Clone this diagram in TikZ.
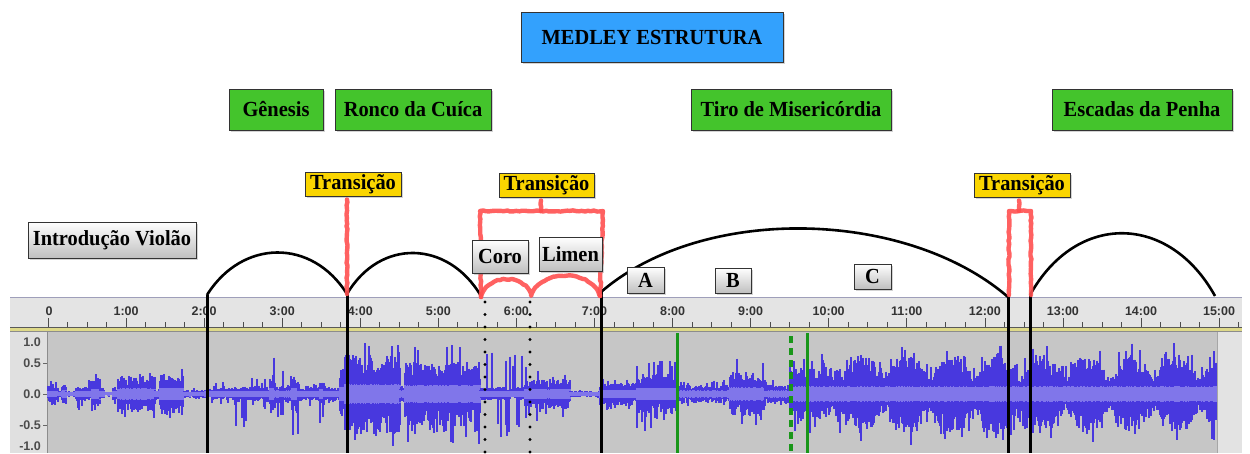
\documentclass[tikz,border=0pt]{standalone}
\usepackage{fontspec}
\setmainfont{Liberation Serif}
\setsansfont{Liberation Sans}
\newfontfamily\boxfam{Liberation Serif}[FakeStretch=0.95]
\usetikzlibrary{shadows,decorations.pathmorphing}
\definecolor{gbox}{RGB}{68,196,44}
\definecolor{bbox}{RGB}{51,161,253}
\definecolor{ybox}{RGB}{250,213,0}
\definecolor{redl}{RGB}{255,80,80}
\definecolor{wdark}{RGB}{72,56,222}
\definecolor{wlight}{RGB}{128,118,234}
\definecolor{trackbg}{RGB}{198,198,198}
\definecolor{rulerbg}{RGB}{228,228,228}
\definecolor{gline}{RGB}{25,150,25}
\newcommand\boxfont{\boxfam\fontsize{21.5}{23}\selectfont\bfseries}
\newcommand\rulfont{\sffamily\fontsize{12.5}{13}\selectfont\bfseries}
\tikzset{
  box/.style={draw=black!80, line width=1pt, font=\boxfont, inner sep=0pt,
    drop shadow={shadow xshift=1.5pt, shadow yshift=-2pt, opacity=0.35}},
  greenbox/.style={box, fill=gbox},
  bluebox/.style={box, fill=bbox},
  yellowbox/.style={box, fill=ybox},
  graybox/.style={box, top color=white, bottom color=black!25},
  redmark/.style={draw=redl, line width=4.4pt, opacity=0.9, line cap=round, line join=round,
    decorate, decoration={random steps, segment length=3pt, amplitude=0.6pt}},
  arcline/.style={draw=black, line width=2.6pt},
  cutline/.style={draw=black, line width=3pt},
  dotline/.style={draw=black, line width=3.2pt, line cap=round, dash pattern=on 0pt off 12.5pt},
  greenline/.style={draw=gline, line width=3pt},
  greendash/.style={draw=gline, line width=3.4pt, dash pattern=on 7pt off 5pt},
  rullab/.style={font=\rulfont, text=black!80, inner sep=0pt},
  amplab/.style={font=\rulfont, text=black!70, inner sep=0pt, anchor=east}
}
\begin{document}
\begin{tikzpicture}[x=1pt,y=-1pt]
\useasboundingbox (0,0) rectangle (1250,453);
% ---------- ruler and track backgrounds
\fill[rulerbg] (10,297) rectangle (1242,327);
\draw[black!30!blue!25!gray!60, line width=1.5pt] (10,297.5) -- (1242,297.5);
\fill[black!12] (10,332) rectangle (47,453);
\fill[trackbg] (48,332) rectangle (1217,453);
\fill[black!11] (1217,332) rectangle (1242,453);
\draw[black!45, line width=1pt] (47.5,332) -- (47.5,453);
\draw[black!35, line width=1pt] (1217.5,332) -- (1217.5,453);
\fill[yellow!45!white!85!black] (10,327.5) rectangle (1242,331.5);
\draw[black!65, line width=1pt] (10,327) -- (1242,327);
\draw[black!45, line width=0.8pt] (10,331.8) -- (1242,331.8);
% ruler ticks
\foreach \i in {0,...,61}{
  \pgfmathsetmacro\tx{48+19.52*\i}
  \pgfmathtruncatemacro\mj{mod(\i,4)}
  \ifnum\mj=0
    \draw[black!70, line width=0.9pt] (\tx,318) -- (\tx,327);
  \else
    \draw[black!70, line width=0.9pt] (\tx,322) -- (\tx,327);
  \fi
}
\node[rullab] (t0) at (49,311) {0};
\foreach \m in {1,...,15}{
  \node[rullab] (tm\m) at ({48+78.07*\m},311) {\m:00};
}
% amplitude labels
\node[amplab] (a1) at (41,342) {1.0};
\node[amplab] (a2) at (41,363) {0.5};
\node[amplab] (a3) at (41,394) {0.0};
\node[amplab] (a4) at (41,425) {-0.5};
\node[amplab] (a5) at (41,446) {-1.0};
\foreach \yy in {363,394,425}{ \draw[black!60, line width=0.8pt] (43,\yy) -- (47,\yy); }
% ---------- waveform
\pgfmathsetseed{4711}
\foreach \a/\b/\m/\s in {48/58/8/13, 58/62/4/4, 62/66/10/10, 66/76/3/3, 76/92/7/18, 92/100/16/20,
  100/104/6/6, 104/113/2/3, 113/118/6/10, 118/155/18/24, 155/160/6/6, 160/183/20/26, 183/205/4/6,
  205/235/6/12, 235/250/8/38, 250/270/8/16, 270/275/20/50, 275/292/9/25, 292/298/20/48, 298/320/7/12,
  320/324/15/36, 324/340/7/12, 340/345/25/40, 345/400/40/54, 400/405/10/12, 405/480/32/50,
  480/525/7/45, 525/570/15/28, 570/600/3/4, 600/637/11/16, 637/677/20/38, 677/730/9/14,
  730/765/22/36, 765/790/9/14, 790/840/26/40}{
  \foreach \x in {\a,...,\b}{
    \pgfmathsetmacro\hu{ifthenelse(rnd>0.86,\s*(0.6+0.4*rnd),\m*(0.45+0.55*rnd))}
    \pgfmathsetmacro\hd{ifthenelse(rnd>0.86,\s*(0.6+0.4*rnd),\m*(0.45+0.55*rnd))}
    \pgfmathsetmacro\rr{min(1.5+0.25*\m,10)*(0.85+0.15*rnd)}
    \pgfmathsetmacro\ru{min(\hu,\rr)}
    \pgfmathsetmacro\rd{min(\hd,\rr)}
    \draw[wdark, line width=1.05pt] (\x,{394-\hu}) -- (\x,{394+\hd});
    \draw[wlight, line width=1.05pt] (\x,{394-\ru}) -- (\x,{394+\rd});
  }
}
\foreach \x in {841,...,1216}{
  \pgfmathsetmacro\m{16+24*abs(sin((\x-840)*4))}
  \pgfmathsetmacro\hu{ifthenelse(rnd>0.85,(\m+12)*(0.7+0.3*rnd),\m*(0.5+0.5*rnd))}
  \pgfmathsetmacro\hd{ifthenelse(rnd>0.85,(\m+12)*(0.7+0.3*rnd),\m*(0.5+0.5*rnd))}
  \pgfmathsetmacro\rr{8*(0.85+0.15*rnd)}
  \draw[wdark, line width=1.05pt] (\x,{394-\hu}) -- (\x,{394+\hd});
  \draw[wlight, line width=1.05pt] (\x,{394-\rr}) -- (\x,{394+\rr});
}
% ---------- coordinates
\coordinate (c1t) at (207,295); \coordinate (c1b) at (207,453);
\coordinate (c2t) at (347,294); \coordinate (c2b) at (347,453);
\coordinate (c3t) at (601,292); \coordinate (c3b) at (601,453);
\coordinate (c4t) at (1008,297); \coordinate (c4b) at (1008,453);
\coordinate (c5t) at (1030,295); \coordinate (c5b) at (1030,453);
\coordinate (r4) at (481,296);
\coordinate (e4) at (1215,296);
\coordinate (d1t) at (485,302); \coordinate (d1b) at (485,453);
\coordinate (d2t) at (530,302); \coordinate (d2b) at (530,453);
\coordinate (g1t) at (677,333); \coordinate (g1b) at (677,453);
\coordinate (g2t) at (791,336); \coordinate (g2b) at (791,453);
\coordinate (g3t) at (807,333); \coordinate (g3b) at (807,453);
% ---------- vertical lines
\draw[cutline] (c1t) -- (c1b);
\draw[cutline] (c2t) -- (c2b);
\draw[cutline] (c3t) -- (c3b);
\draw[cutline] (c4t) -- (c4b);
\draw[cutline] (c5t) -- (c5b);
\draw[dotline] (d1t) -- (d1b);
\draw[dotline] (d2t) -- (d2b);
\draw[greenline] (g1t) -- (g1b);
\draw[greenline] (g3t) -- (g3b);
\draw[greendash] (g2t) -- (g2b);
% ---------- arcs
\draw[arcline] (c1t) .. controls +(35,-56) and +(-35,-56) .. (c2t);
\draw[arcline] (c2t) .. controls +(33,-56) and +(-33,-56) .. (r4);
\draw[arcline] (c3t) .. controls +(102,-88) and +(-102,-88) .. (c4t);
\draw[arcline] (c5t) .. controls +(46,-83) and +(-46,-83) .. (e4);
% ---------- boxes
\node[bluebox, minimum width=262pt, minimum height=50pt] (title) at (652,37) {MEDLEY ESTRUTURA};
\node[greenbox, minimum width=94pt, minimum height=41pt] (gen) at (276,109.5) {Gênesis};
\node[greenbox, minimum width=156pt, minimum height=41pt] (ronco) at (413,109.5) {Ronco da Cuíca};
\node[greenbox, minimum width=200pt, minimum height=41pt] (tiro) at (791,109.5) {Tiro de Misericórdia};
\node[greenbox, minimum width=180pt, minimum height=41pt] (esc) at (1142,109.5) {Escadas da Penha};
\node[yellowbox, minimum width=96pt, minimum height=24pt] (tr1) at (353,184) {Transição};
\node[yellowbox, minimum width=95pt, minimum height=24pt] (tr2) at (546.5,185) {Transição};
\node[yellowbox, minimum width=96pt, minimum height=24pt] (tr3) at (1022,185) {Transição};
% ---------- red transition marks
\coordinate (q1) at (347,294);
\draw[redmark] ([yshift=-3pt]tr1.south -| q1) -- (q1);
\coordinate (s2) at (541,211);
\coordinate (s2l) at (480,211); \coordinate (s2r) at (603,211);
\coordinate (b2l) at (481,297); \coordinate (b2m) at (531,296); \coordinate (b2r) at (600,296);
\draw[redmark] ([yshift=-3pt]tr2.south -| s2) -- (s2);
\draw[redmark] (b2l) -- (s2l) -- (s2r) -- (b2r);
\draw[redmark] (b2l) .. controls +(6,-22) and +(-6,-24) .. (b2m)
               .. controls +(8,-27) and +(-8,-27) .. (b2r);
\coordinate (s3) at (1019,211);
\coordinate (s3l) at (1009,211); \coordinate (s3r) at (1031,211);
\coordinate (b3l) at (1009,295); \coordinate (b3r) at (1031,295);
\draw[redmark] ([yshift=-3pt]tr3.south -| s3) -- (s3);
\draw[redmark] (b3l) -- (s3l) -- (s3r) -- (b3r);
% ---------- gray boxes
\node[graybox, minimum width=168pt, minimum height=36pt] (intro) at (112,240) {Introdução Violão};
\node[graybox, minimum width=56pt, minimum height=33pt] (coro) at (500,256.5) {Coro};
\node[graybox, minimum width=63pt, minimum height=34pt] (limen) at (570.5,254) {Limen};
\node[graybox, minimum width=37pt, minimum height=26pt] (A) at (645.5,280) {A};
\node[graybox, minimum width=36pt, minimum height=25pt] (B) at (733,280.5) {B};
\node[graybox, minimum width=37pt, minimum height=25pt] (C) at (872.5,276.5) {C};
\end{tikzpicture}
\end{document}
